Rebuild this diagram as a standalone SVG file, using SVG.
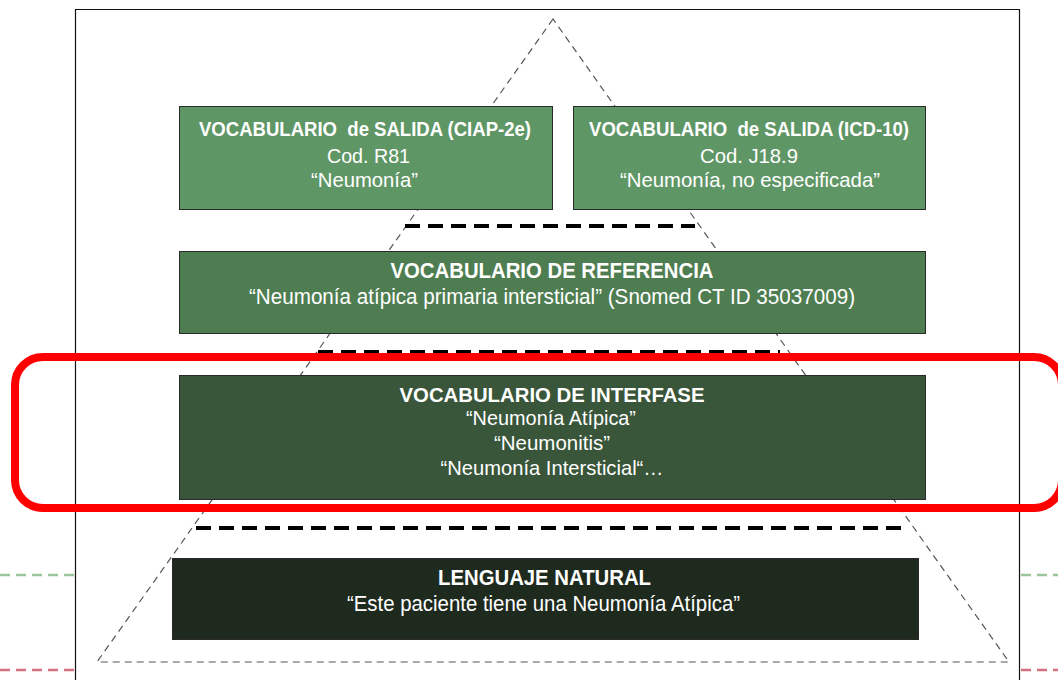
<svg xmlns="http://www.w3.org/2000/svg" width="1058" height="680" viewBox="0 0 1058 680">
<style>
.frame{stroke:#111;stroke-width:1.2;fill:none}
.tri{stroke:#555;stroke-width:1.2;fill:none;stroke-dasharray:7 5}
.sep{stroke:#000;stroke-width:4;stroke-dasharray:15 8;fill:none}
.box{stroke:#2a2a2a;stroke-width:1}
.t{font-family:"Liberation Sans",Arial,sans-serif;fill:#fff;text-anchor:middle}
.b{font-weight:bold;font-size:20px}
.r{font-size:21px}
.n{font-size:22px}
.nb{font-weight:bold;font-size:22px}
</style>
<rect width="1058" height="680" fill="#fff"/>
<g id="frame">
<path class="frame" d="M75.5 680V9.5H1019.5V680"/>
<line x1="0" y1="575" x2="75" y2="575" stroke="#9cc79c" stroke-width="2.5" stroke-dasharray="10 6"/>
<line x1="1021" y1="575" x2="1058" y2="575" stroke="#9cc79c" stroke-width="2.5" stroke-dasharray="10 6"/>
<line x1="0" y1="670" x2="75" y2="670" stroke="#d47080" stroke-width="2.5" stroke-dasharray="10 6"/>
<line x1="1021" y1="670" x2="1058" y2="670" stroke="#d47080" stroke-width="2.5" stroke-dasharray="10 6"/>
</g>
<g id="connectors">
<path class="tri" d="M553 19L97 662H1009Z"/>
<line class="sep" x1="405" y1="226" x2="695" y2="226"/>
<line class="sep" x1="318" y1="352" x2="780" y2="352"/>
<line class="sep" x1="196" y1="528" x2="905" y2="528"/>
</g>
<g id="salida-ciap">
<rect class="box" x="179.5" y="106.5" width="373" height="103" fill="#5f9666"/>
<text class="t b" x="365" y="136" textLength="332" lengthAdjust="spacingAndGlyphs">VOCABULARIO&#160; de SALIDA (CIAP-2e)</text>
<text class="t r" x="368.5" y="163" textLength="83" lengthAdjust="spacingAndGlyphs">Cod. R81</text>
<text class="t r" x="364.5" y="187" textLength="107" lengthAdjust="spacingAndGlyphs">“Neumonía”</text>
</g>
<g id="salida-icd">
<rect class="box" x="573.5" y="106.5" width="352" height="103" fill="#5f9666"/>
<text class="t b" x="749" y="136" textLength="320" lengthAdjust="spacingAndGlyphs">VOCABULARIO&#160; de SALIDA (ICD-10)</text>
<text class="t r" x="749" y="163" textLength="98" lengthAdjust="spacingAndGlyphs">Cod. J18.9</text>
<text class="t r" x="750" y="187" textLength="260" lengthAdjust="spacingAndGlyphs">“Neumonía, no especificada”</text>
</g>
<g id="referencia">
<rect class="box" x="179.5" y="251.5" width="746" height="82" fill="#4e7d51"/>
<text class="t nb" x="552" y="278" textLength="323" lengthAdjust="spacingAndGlyphs">VOCABULARIO DE REFERENCIA</text>
<text class="t n" x="552" y="304" textLength="606" lengthAdjust="spacingAndGlyphs">“Neumonía atípica primaria intersticial” (Snomed CT ID 35037009)</text>
</g>
<g id="interfase">
<rect class="box" x="179.5" y="375.5" width="746" height="124" fill="#39553a"/>
<text class="t b" x="552" y="402" textLength="305" lengthAdjust="spacingAndGlyphs">VOCABULARIO DE INTERFASE</text>
<text class="t r" x="551" y="425" textLength="170" lengthAdjust="spacingAndGlyphs">“Neumonía Atípica”</text>
<text class="t r" x="552" y="450" textLength="116" lengthAdjust="spacingAndGlyphs">“Neumonitis”</text>
<text class="t r" x="552" y="475" textLength="223" lengthAdjust="spacingAndGlyphs">“Neumonía Intersticial“…</text>
</g>
<g id="lenguaje">
<rect class="box" x="172.5" y="558.5" width="746" height="81" fill="#1f2a1e"/>
<text class="t nb" x="544.5" y="585" textLength="213" lengthAdjust="spacingAndGlyphs">LENGUAJE NATURAL</text>
<text class="t n" x="543.5" y="611" textLength="393" lengthAdjust="spacingAndGlyphs">“Este paciente tiene una Neumonía Atípica”</text>
</g>
<g id="highlight">
<rect x="15" y="357" width="1047" height="151" rx="28" fill="none" stroke="#ff0000" stroke-width="8"/>
</g>
</svg>
